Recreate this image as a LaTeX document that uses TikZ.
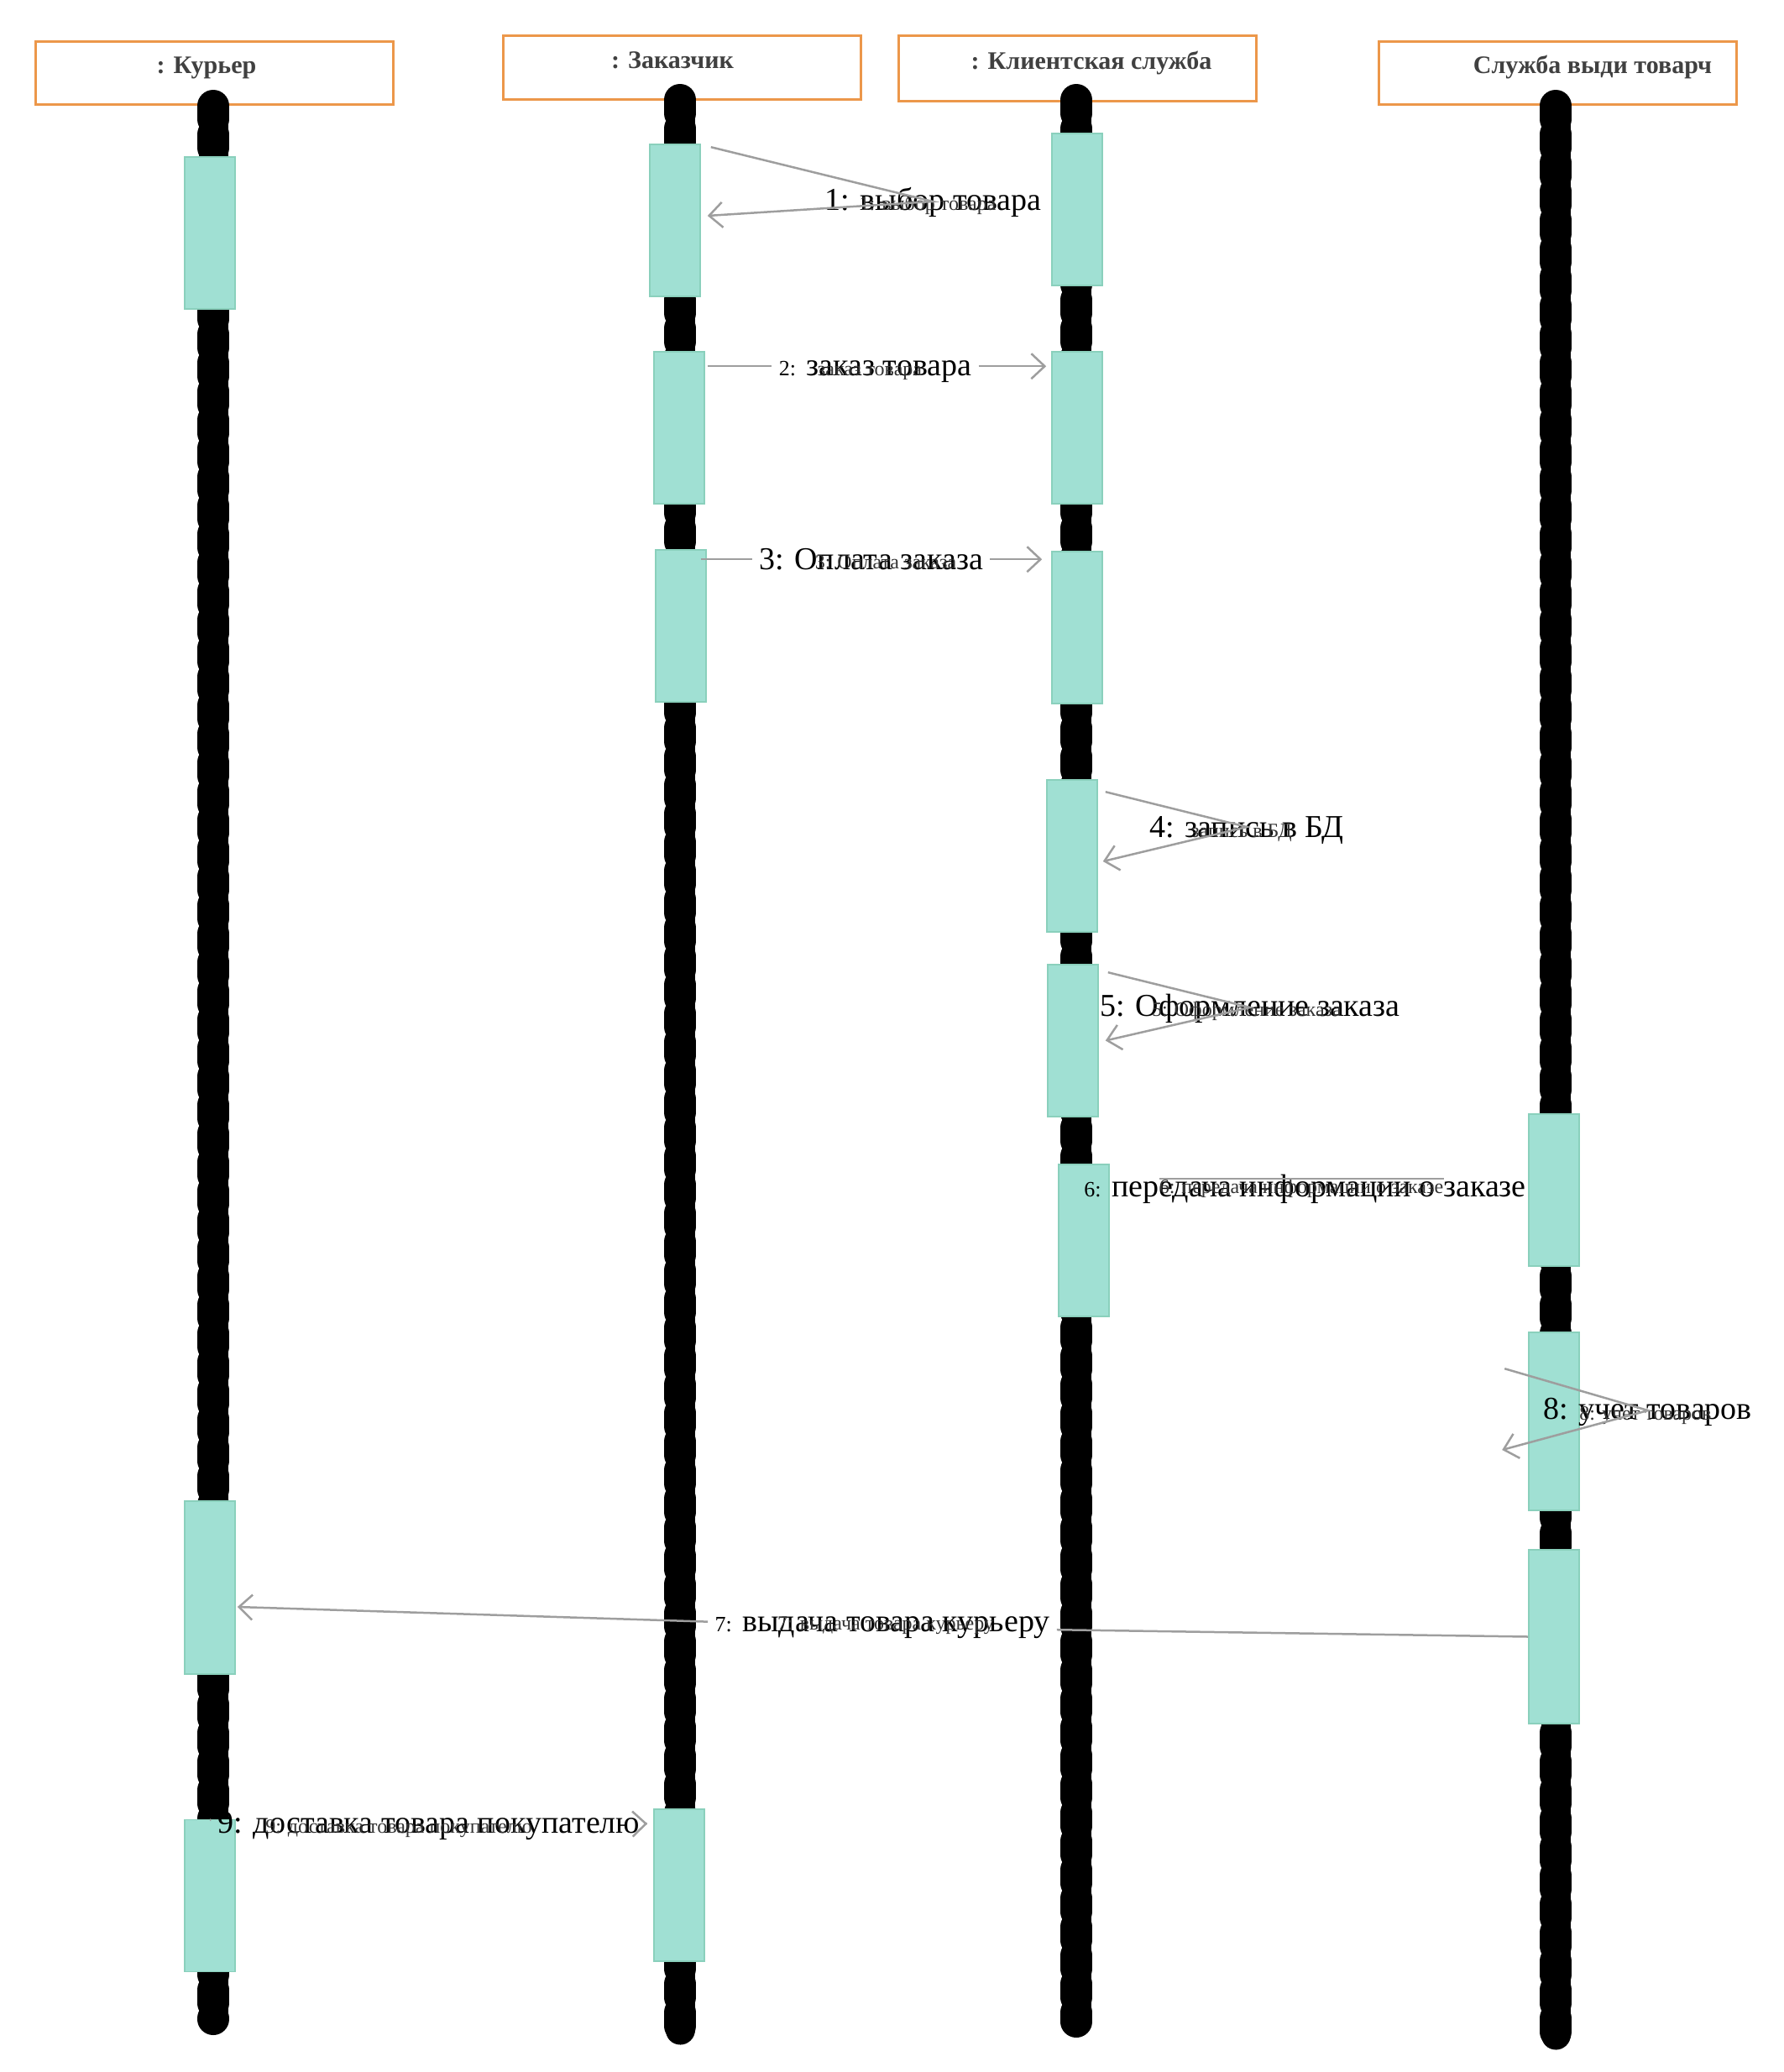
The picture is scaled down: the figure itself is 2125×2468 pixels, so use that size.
\documentclass[tikz,border=0pt]{standalone}
\usepackage{fontspec}
\setmainfont{Liberation Serif}
\usetikzlibrary{arrows.meta,positioning}
\definecolor{headorange}{RGB}{236,151,74}
\definecolor{headtext}{RGB}{64,64,64}
\definecolor{actfill}{RGB}{160,224,211}
\definecolor{actline}{RGB}{138,208,188}
\definecolor{msggray}{RGB}{158,158,158}
\newcommand{\numsz}{\fontsize{13}{14}\selectfont}

\begin{document}
\begin{tikzpicture}[x=0.5pt, y=-0.5pt, >={Straight Barb[length=8pt,width=15pt]},
  head/.style={draw=headorange, line width=1.5pt, fill=white, minimum width=213pt, minimum height=37.5pt, inner sep=0pt},
  headtxt/.style={anchor=base, text=headtext, font=\bfseries\fontsize{15}{16}\selectfont, inner sep=0pt},
  lifeline/.style={line width=17.5pt, line cap=round},
  bumps/.style={line width=19pt, line cap=round, dash pattern=on 8pt off 9pt},
  act/.style={draw=actline, line width=0.8pt, fill=actfill, minimum width=30pt, minimum height=90.5pt, inner sep=0pt},
  msg/.style={draw=msggray, line width=1.25pt},
  lbl/.style={anchor=base, font=\fontsize{19}{20}\selectfont, inner sep=4pt},
  ghost/.style={anchor=base, font=\fontsize{12}{13}\selectfont, text=black!80, inner sep=0pt}]
\useasboundingbox (0,0) rectangle (2125,2468);

% objects
\node[head] (kur) at (255.5,86.5) {};
\node[head, minimum height=38pt] (zak) at (812,80) {};
\node[head, minimum height=39pt] (kli) at (1283.5,81) {};
\node[head] (skl) at (1855,86.5) {};
\node[headtxt] (kurT) at (246,87) {: Курьер};
\node[headtxt] (zakT) at (801,81) {: Заказчик};
\node[headtxt] (kliT) at (1300,82) {: Клиентская служба};
\node[headtxt] (sklT) at (1897,87) {Служба выди товарч};

% lifelines
\foreach \x/\top/\bot in {254/126/2405, 810/119/2418, 1282/119/2408, 1853/126/2424} {
  \draw[lifeline] (\x,\top) -- (\x,\bot);
  \draw[bumps] (\x,\top) -- (\x,\bot);
}

% activations
\node[act] (k1) at (250,277.5) {};
\node[act, minimum height=103pt] (k2) at (250,1891) {};
\node[act] (k3) at (250,2258) {};
\node[act] (z1) at (804,262.5) {};
\node[act] (z2) at (809,509.5) {};
\node[act] (z3) at (811,745.5) {};
\node[act] (z4) at (809,2245.5) {};
\node[act] (c1) at (1283,249.5) {};
\node[act] (c2) at (1283,509.5) {};
\node[act] (c3) at (1283,747.5) {};
\node[act] (c4) at (1277,1019.5) {};
\node[act] (c5) at (1278,1239.5) {};
\node[act] (c6) at (1291,1477.5) {};
\node[act] (w1) at (1851,1417.5) {};
\node[act, minimum height=106pt] (w2) at (1851,1693) {};
\node[act, minimum height=103.5pt] (w3) at (1851,1949.5) {};

% message labels
\node[lbl] (l1) at (1111.5,250) {1: выбор товара};
\node[lbl] (l2) at (1042.5,447) {{\numsz 2:} заказ товара};
\node[lbl] (l3) at (1037.5,678) {3: Оплата заказа};
\node[lbl] (l4) at (1485,997) {4: запись в БД};
\node[lbl] (l5) at (1489,1210) {5: Оформление заказа};
\node[lbl] (l6) at (1554.5,1425) {{\numsz 6:} передача информации о заказе};
\node[lbl] (l7) at (1051,1943) {{\numsz 7:} выдача товара курьеру};
\node[lbl] (l8) at (1962.5,1690) {8: учет товаров};
\node[lbl] (l9) at (511,2183) {9: доставка товара покупателю};

\node[ghost] (g1) at (1105,250) {1: выбор товара};
\node[ghost] (g2) at (1036,447) {заказ товара};
\node[ghost] (g3) at (1055,677) {3: Оплата заказа};
\node[ghost] (g4) at (1479,997) {запись в БД};
\node[ghost] (g5) at (1485,1210) {5: Оформление заказа};
\node[ghost] (g6) at (1550,1421) {6: передача информации о заказе};
\node[ghost] (g7) at (1055,1941) {7: выдача товара курьеру};
\node[ghost] (g8) at (1960,1691) {8: учет товаров};
\node[ghost] (g9) at (475,2183) {9: доставка товара покупателю};

% messages
\coordinate (t1) at (1111,240);
\draw[msg,->] ([xshift=6pt,yshift=-2pt]z1.north east) -- (t1) -- ([xshift=4pt,yshift=2.75pt]z1.east);

\coordinate (m2s) at ([xshift=1.5pt,yshift=-9pt]z2.north east);
\coordinate (m2e) at ([xshift=-3pt,yshift=-9pt]c2.north west);
\draw[msg] (m2s) -- (m2s -| l2.west);
\draw[msg,->] (m2e -| l2.east) -- (m2e);

\coordinate (m3s) at ([xshift=-3.5pt,yshift=-6pt]z3.north east);
\coordinate (m3e) at ([xshift=-5.5pt,yshift=-5pt]c3.north west);
\draw[msg] (m3s) -- (m3s -| l3.west);
\draw[msg,->] (m3e -| l3.east) -- (m3e);

\coordinate (t4) at (1485,985);
\draw[msg,->] ([xshift=4.5pt,yshift=-7.5pt]c4.north east) -- (t4) -- ([xshift=3pt,yshift=-3.25pt]c4.east);

\coordinate (t5) at (1489,1200);
\draw[msg,->] ([xshift=5.5pt,yshift=-5pt]c5.north east) -- (t5) -- ([xshift=4pt]c5.east);

\coordinate (m6s) at ([yshift=-9pt]c6.north east);
\draw[msg, shorten <=29.5pt, shorten >=50pt] (m6s) -- (m6s -| w1.west);

\draw[msg] (w3.west) -- (l7);
\draw[msg,->] (l7) -- ([xshift=1pt,yshift=-11.5pt]k2.east);

\coordinate (t8) at (1963,1680);
\draw[msg,->] ([xshift=-14pt,yshift=-22pt]w2.north west) -- (t8) -- ([xshift=-15.5pt,yshift=-17pt]w2.west);

\draw[msg] ([yshift=-0.5pt]k3.north) -- (l9);
\draw[msg,->] (l9) -- ([xshift=-3.5pt,yshift=-9pt]z4.north west);
\end{tikzpicture}
\end{document}
